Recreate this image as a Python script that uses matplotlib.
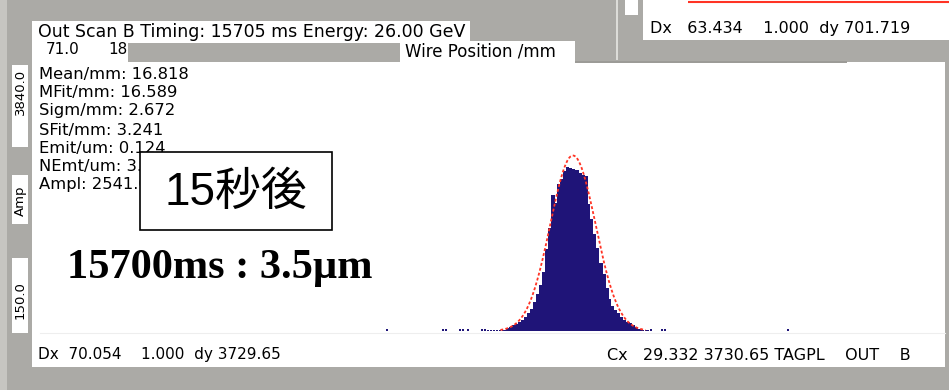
import numpy as np
import matplotlib
matplotlib.use("Agg")
import matplotlib.pyplot as plt
from matplotlib.patches import Rectangle

# wire scan histogram (position in mm, counts)
bin_pos = [7.53, 7.96, 8.39, 8.82, 9.25, 9.68, 10.10, 10.53, 10.96, 11.39,
           11.82, 12.25, 12.68, 13.10, 13.53, 13.96, 14.39, 14.82, 15.25, 15.68,
           16.10, 16.53, 16.96, 17.39, 17.82, 18.25, 18.68, 19.10, 19.53, 19.96,
           20.39, 20.82, 21.25, 21.68, 22.10, 22.53, 22.96, 23.39, 23.82, 24.25,
           24.68, 25.10, 25.53, 25.96, 26.39, 26.82]
bin_counts = [39, 62, 86, 105, 129, 153, 196, 262, 325, 420,
              540, 659, 850, 1185, 1490, 1963, 1849, 2121, 2207, 2321,
              2379, 2364, 2350, 2336, 2293, 2264, 2250, 1834, 1619, 1404,
              1204, 989, 831, 616, 459, 358, 301, 258, 201, 158,
              129, 115, 86, 57, 29, 14]

# isolated hits in the tails
tail_pos = [-9.75, -1.75, -1.32, 0.68, 1.11, 1.82, 3.82, 4.25, 4.68, 5.10,
            5.53, 5.96, 6.39, 6.82, 7.10, 27.25, 27.60, 27.96, 29.53, 29.96, 47.53]
tail_counts = [25, 25, 25, 25, 25, 25, 25, 25, 18, 18,
               18, 18, 18, 18, 18, 18, 18, 25, 25, 25, 25]

# gaussian fit shown on the display
fit_ampl = 2541.0
fit_mean = 16.818
fit_sigma = 3.241

title_text = "Out Scan B Timing: 15705 ms Energy: 26.00 GeV"
axis_label = "Wire Position /mm"
stats_lines = ["Mean/mm: 16.818", "MFit/mm: 16.589", "Sigm/mm: 2.672",
               "SFit/mm: 3.241", "Emit/um: 0.124", "NEmt/um: 3.513",
               "Ampl: 2541.0"]
y_labels = ["3840.0", "Amp", "150.0"]
bottom_left = "Dx  70.054    1.000  dy 3729.65"
bottom_right = "Cx   29.332 3730.65 TAGPL    OUT    B"
top_right = "Dx   63.434    1.000  dy 701.719"
note_box = "15秒後"
note_big = "15700ms : 3.5\u00b5m"

GRAY = "#abaaa6"
NAVY = "#1f1478"
FIT_RED = "#ff3324"

plt.rcParams['font.family'] = ['DejaVu Sans']

fig = plt.figure(figsize=(9.49, 3.90), dpi=100)
fig.patch.set_facecolor(GRAY)

# pixel-space layer for the panels and the screen text
bg = fig.add_axes([0, 0, 1, 1])
bg.set_xlim(0, 949)
bg.set_ylim(390, 0)
bg.axis("off")


def rect(x0, y0, x1, y1, fc, ec="none", lw=0, z=1):
    bg.add_patch(Rectangle((x0, y0), x1 - x0, y1 - y0, facecolor=fc,
                           edgecolor=ec, linewidth=lw, zorder=z))


rect(0, 0, 7, 390, "#c6c5c1")
rect(32, 62, 945, 367, "white")          # main plot panel
rect(32, 21, 470, 62, "white")           # title box
rect(128, 43, 400, 62, GRAY)
rect(400, 41, 575, 62, "white")          # axis name box
rect(575, 61, 847, 62.5, "#9c9b97")
rect(643, 0, 949, 40, "white")           # top right panel
rect(625, 0, 638, 15, "white")
rect(616, 0, 618, 60, "#dcdcd8")
bg.plot([688, 949], [2, 2], color=FIT_RED, lw=1.5, solid_capstyle="butt")
bg.plot([40, 945], [333, 333], color="#eeeeee", lw=0.8)

# y range boxes on the left
for (y0, y1), txt, yc in zip([(65, 147), (175, 224), (258, 333)], y_labels, [92, 201, 300]):
    rect(12, y0, 28, y1, "white")
    bg.text(20.5, yc, txt, rotation=90, ha="center", va="center", fontsize=9.5)

bg.text(38, 32, title_text, fontsize=12.5, va="center", ha="left")
bg.text(46, 50, "71.0", fontsize=11, va="center", ha="left")
bg.text(108, 50, "18", fontsize=11, va="center", ha="left")
bg.text(405, 51, axis_label, fontsize=12, va="center", ha="left")
bg.text(650, 28, top_right, fontsize=11.5, va="center", ha="left")

stat_y = [75, 92, 111, 130, 148, 166, 184]
for y, line in zip(stat_y, stats_lines):
    bg.text(39, y, line, fontsize=11.8, va="center", ha="left", zorder=2)

bg.text(38, 355, bottom_left, fontsize=11, va="center", ha="left")
bg.text(607, 355, bottom_right, fontsize=11.5, va="center", ha="left")

# annotation pasted on top of the screen
rect(140, 152, 332, 230, "white", ec="black", lw=1.2, z=5)
bg.text(236, 193, note_box, fontsize=33, ha="center", va="center", zorder=6,
        family=['Liberation Sans', 'Noto Sans CJK JP'])
bg.text(67, 278, note_big, fontsize=30.5, ha="left", va="baseline",
        family="Liberation Serif", weight="bold", zorder=6)

# histogram axes
ax = fig.add_axes([32 / 949, (390 - 331) / 390, (945 - 32) / 949, (331 - 63) / 390])
ax.set_facecolor("none")
ax.set_xlim(-60.5, 70.0)
ax.set_ylim(0, 3880)
ax.axis("off")

ax.bar(bin_pos, bin_counts, width=0.45, color=NAVY, linewidth=0, align="center")
ax.bar(tail_pos, tail_counts, width=0.32, color=NAVY, linewidth=0, align="center")

xf = np.linspace(fit_mean - 3.2 * fit_sigma, fit_mean + 3.2 * fit_sigma, 300)
yf = fit_ampl * np.exp(-0.5 * ((xf - fit_mean) / fit_sigma) ** 2)
ax.plot(xf, yf, color=FIT_RED, lw=1.3, linestyle=(0, (1.6, 1.2)), zorder=3)

fig.savefig("out.png", dpi=100, facecolor=fig.get_facecolor())
